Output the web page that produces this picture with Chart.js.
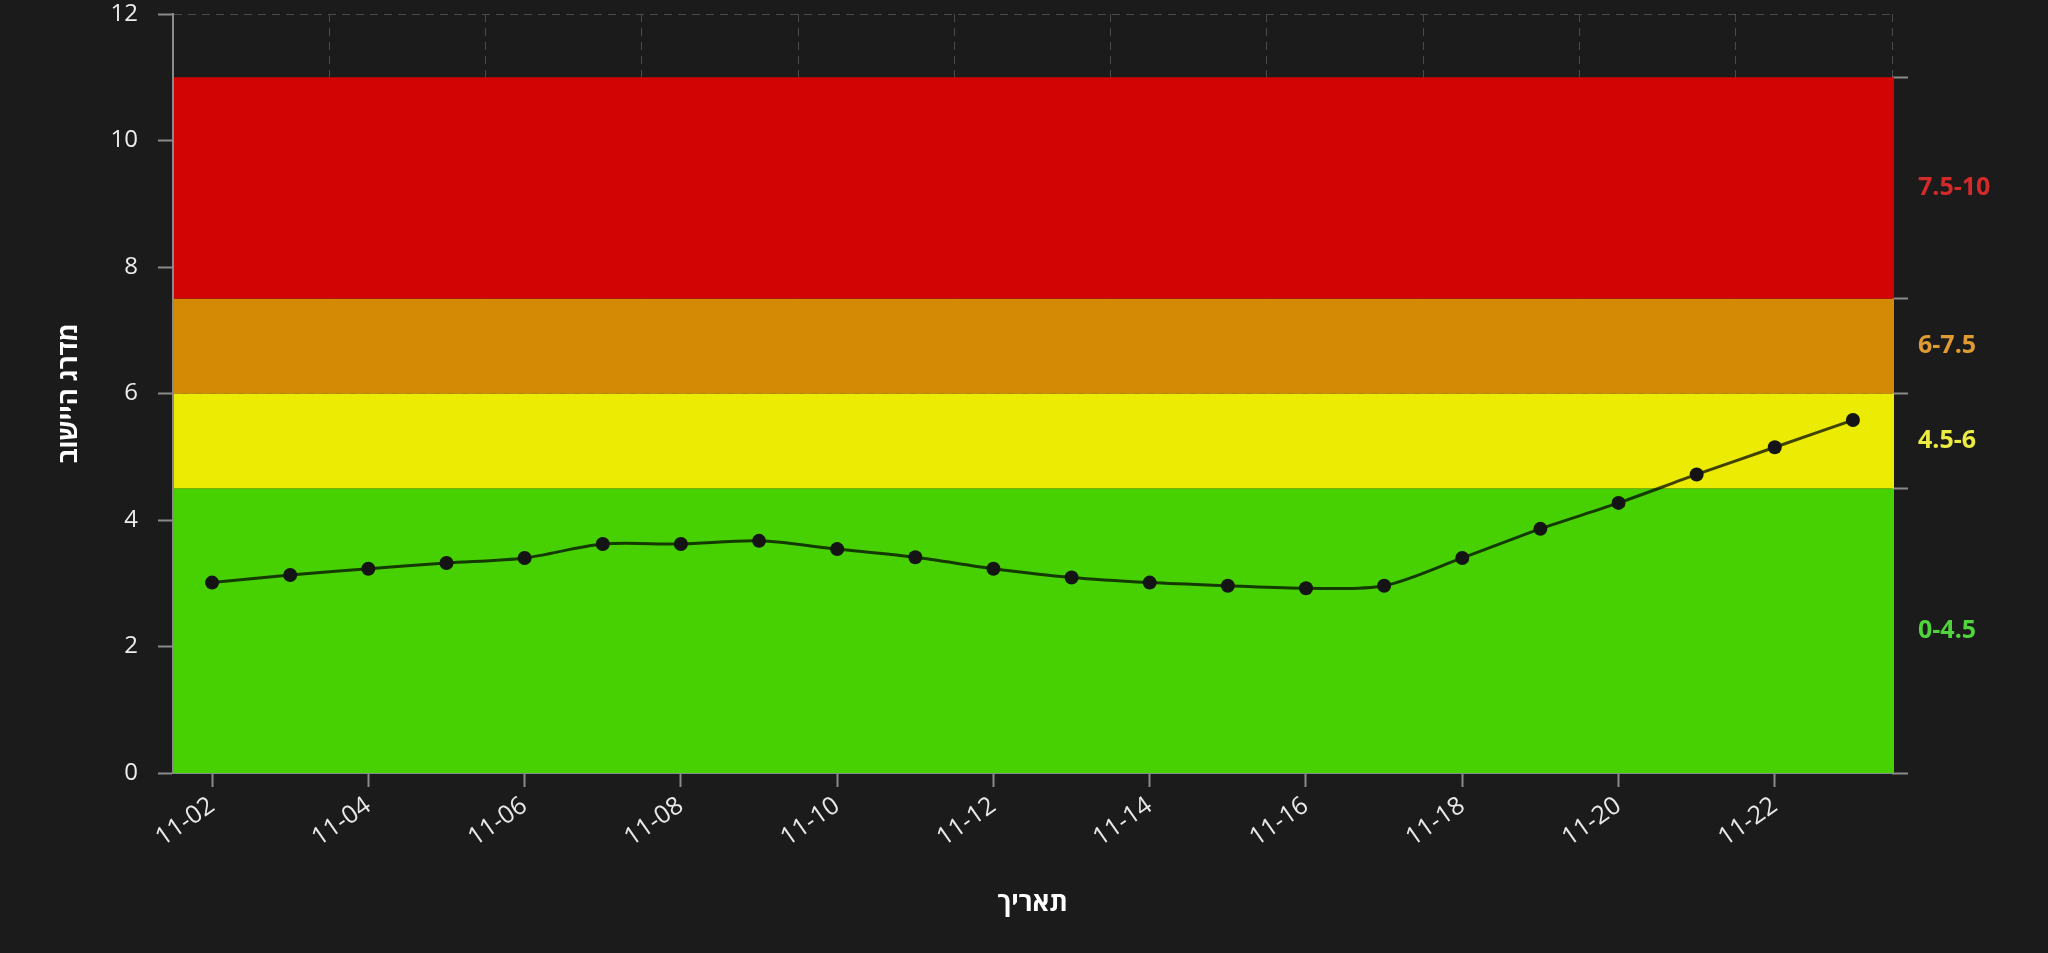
<!DOCTYPE html>
<html>
<head>
<meta charset="utf-8">
<script src="https://cdn.jsdelivr.net/npm/chart.js@4"></script>
<style>
    html, body { margin: 0; padding: 0; background: #1b1b1b; }
    #wrap { width: 2048px; height: 953px; }
</style>
</head>
<body>
<div id="wrap"><canvas id="graphic"></canvas></div>
<script>
const dates = ['11-02', '11-03', '11-04', '11-05', '11-06', '11-07', '11-08', '11-09', '11-10', '11-11', '11-12',
    '11-13', '11-14', '11-15', '11-16', '11-17', '11-18', '11-19', '11-20', '11-21', '11-22', '11-23'];
const values = [3.01, 3.13, 3.23, 3.32, 3.40, 3.62, 3.62, 3.67, 3.54, 3.41, 3.23,
    3.09, 3.01, 2.96, 2.92, 2.96, 3.40, 3.86, 4.27, 4.72, 5.15, 5.58];

// colour bands (from / to on the y scale)
const bandFrom = [0, 4.5, 6, 7.5];
const bandTo = [4.5, 6, 7.5, 11];
const bandLabels = ['0-4.5', '4.5-6', '6-7.5', '7.5-10'];
const bandColors = ['#48d102', '#ebeb03', '#d48a05', '#d20404'];
const bandTextColors = ['#4fd43c', '#ecec40', '#e09a32', '#d42a2a'];

Chart.defaults.font.family = "'Open Sans', 'DejaVu Sans', sans-serif";

//Right axis: tick marks on band edges, labels in the middle of each band
const rightTicks = [];
const rightLabels = [];
const rightColors = [];
const rightTickColors = [];
for (let i = 0; i < bandFrom.length; i++) {
    rightTicks.push(bandFrom[i], (bandFrom[i] + bandTo[i]) / 2);
    rightLabels.push('', bandLabels[i]);
    rightColors.push('transparent', bandTextColors[i]);
    rightTickColors.push('#8a8a8a', 'transparent');
}
rightTicks.push(bandTo[bandTo.length - 1]);
rightLabels.push('');
rightColors.push('transparent');
rightTickColors.push('#8a8a8a');

const bandsPlugin = {
    id: 'bands',
    beforeDatasetsDraw(chart) {
        const {ctx, chartArea, scales: {y}} = chart;
        ctx.save();
        for (let i = 0; i < bandFrom.length; i++) {
            const top = y.getPixelForValue(bandTo[i]);
            const bottom = y.getPixelForValue(bandFrom[i]);
            ctx.fillStyle = bandColors[i];
            ctx.fillRect(chartArea.left + 1, top, chartArea.right - chartArea.left + 1, bottom - top);
        }
        ctx.restore();
    }
};

const gridDash = [8, 6];
const noPad = s => { s.paddingTop = 0; s.paddingBottom = 0; };

new Chart(document.getElementById('graphic'), {
    type: 'line',
    data: {
        labels: dates,
        datasets: [{
            label: 'מדרג',
            data: values,
            xAxisID: 'x',
            yAxisID: 'y',
            borderColor: 'rgba(0, 0, 0, 0.72)',
            borderWidth: 3,
            tension: 0.3,
            pointRadius: 7,
            pointBorderWidth: 0,
            pointBackgroundColor: '#141414'
        }]
    },
    plugins: [bandsPlugin],
    options: {
        responsive: true,
        maintainAspectRatio: false,
        devicePixelRatio: 1,
        animation: false,
        layout: { padding: { top: 14, left: 0, right: 0, bottom: 0 } },
        plugins: {
            legend: { display: false },
            tooltip: { enabled: false }
        },
        scales: {
            x: {
                type: 'category',
                position: 'bottom',
                offset: true,
                grid: {
                    offset: false,
                    drawOnChartArea: false,
                    tickLength: 14,
                    tickWidth: 2,
                    tickColor: ctx => ctx.index % 2 ? 'transparent' : '#8a8a8a'
                },
                border: { color: '#8a8a8a', width: 2 },
                ticks: {
                    autoSkip: false,
                    minRotation: 35,
                    maxRotation: 35,
                    padding: 4,
                    color: '#e8e8e8',
                    font: { size: 25 },
                    callback: (val, i) => i % 2 ? '' : dates[i]
                },
                title: {
                    display: true,
                    text: 'תאריך',
                    color: '#ffffff',
                    font: { size: 26, weight: 'bold' },
                    padding: { top: 0, bottom: 34 }
                },
                afterFit: s => { s.height = 180; s.paddingLeft = 0; s.paddingRight = 0; }
            },
            x2: {
                type: 'category',
                position: 'top',
                offset: true,
                grid: {
                    offset: true,
                    drawTicks: false,
                    color: ctx => ctx.index % 2 ? 'transparent' : '#4a4a4a'
                },
                border: { display: false, dash: gridDash },
                ticks: { display: false },
                afterFit: s => { s.height = 0; }
            },
            y: {
                position: 'left',
                min: 0,
                max: 12,
                ticks: {
                    stepSize: 2,
                    padding: 20,
                    color: '#ececec',
                    font: { size: 24 }
                },
                grid: {
                    color: '#4a4a4a',
                    tickColor: '#8a8a8a',
                    tickLength: 15,
                    tickWidth: 2,
                    tickBorderDash: []
                },
                border: { color: '#8a8a8a', width: 2, dash: gridDash },
                title: {
                    display: true,
                    text: 'מדרג היישוב',
                    color: '#ffffff',
                    font: { size: 26, weight: 'bold' },
                    padding: { top: 54, bottom: 0 }
                },
                afterFit: s => { s.width = 173; noPad(s); }
            },
            y2: {
                position: 'right',
                min: 0,
                max: 12,
                afterBuildTicks: s => { s.ticks = rightTicks.map(v => ({ value: v })); },
                ticks: {
                    autoSkip: false,
                    padding: 10,
                    font: { size: 25, weight: 'bold' },
                    color: ctx => rightColors[ctx.index],
                    callback: (val, i) => rightLabels[i]
                },
                grid: {
                    drawOnChartArea: false,
                    tickLength: 16,
                    tickWidth: 2,
                    tickColor: ctx => rightTickColors[ctx.index]
                },
                border: { display: false },
                afterFit: s => { s.width = 156; noPad(s); }
            }
        }
    }
});
</script>
</body>
</html>
